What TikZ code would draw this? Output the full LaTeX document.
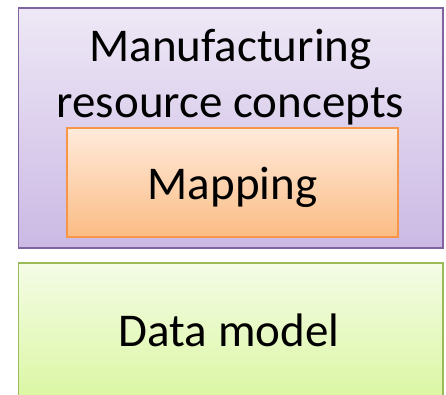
\documentclass[tikz,border=0pt]{standalone}
\usepackage{fontspec}
\setmainfont{Carlito}
\usetikzlibrary{positioning}

\definecolor{purpleline}{HTML}{8064A2}
\definecolor{purpletop}{HTML}{EEE8F6}
\definecolor{purplebot}{HTML}{CBB9E4}
\definecolor{orangeline}{HTML}{F79646}
\definecolor{orangetop}{HTML}{FFEBDC}
\definecolor{orangebot}{HTML}{FBBC84}
\definecolor{greenline}{HTML}{9BBB59}
\definecolor{greentop}{HTML}{F4FCE6}
\definecolor{greenbot}{HTML}{DAF6A0}

\begin{document}
\begin{tikzpicture}
[x=1pt,y=1pt,
 layer/.style={shape=rectangle,line width=1.4pt,inner sep=0pt},
 concepts/.style={layer,draw=purpleline,top color=purpletop,bottom color=purplebot},
 mapbox/.style={layer,draw=orangeline,top color=orangetop,bottom color=orangebot},
 datamodel/.style={layer,draw=greenline,top color=greentop,bottom color=greenbot},
 word/.style={font=\fontsize{47}{56}\selectfont,inner sep=0pt,anchor=base}]

\useasboundingbox (0,0) rectangle (446,395);
\clip (0,0) rectangle (446,395);
\fill[white] (0,0) rectangle (446,395);

% upper layer
\node (res) [concepts,minimum width=424.5pt,minimum height=240pt] at (230.75,267) {};
\node (res1) [word] at (230.5,333) {Manufacturing};
\node (res2) [word] at (230.5,277) {resource concepts};

\node (map) [mapbox,minimum width=331pt,minimum height=109pt] at (232.5,212.5) {};
\node (maptext) [word] at (232.5,195) {Mapping};

% lower layer
\node (data) [datamodel,minimum width=424.5pt,minimum height=142pt] at (230.75,61) {};
\node (datatext) [word] at (229,48) {Data model};

\end{tikzpicture}
\end{document}
